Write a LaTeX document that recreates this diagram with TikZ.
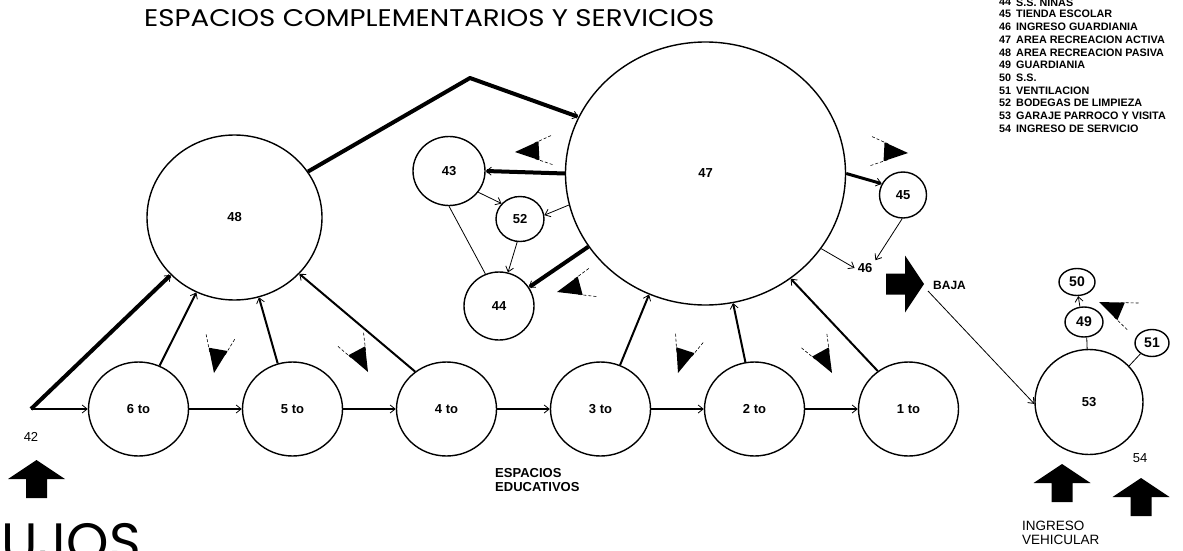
\documentclass[tikz,border=0pt]{standalone}
\usepackage{fontspec}
\usepackage{graphicx}
\setmainfont{Liberation Sans}
\newfontfamily\poppins{Poppins}
\usetikzlibrary{shapes.geometric,arrows.meta}
\begin{document}
\begin{tikzpicture}[x=1pt,y=-1pt,
  circ/.style={ellipse,draw,line width=1.4pt,inner sep=0pt,font=\fontsize{13}{13}\selectfont\bfseries},
  smallc/.style={circ,font=\fontsize{14}{14}\selectfont\bfseries},
  thk/.style={line width=4pt,line join=round},
  mid/.style={line width=3pt},
  med/.style={line width=2pt},
  hl/.style={line width=1.5pt},
  thn/.style={line width=0.8pt},
  barb/.style={-{Straight Barb[length=5pt,width=8pt,line width=0.8pt]}},
  lab/.style={inner sep=0pt,font=\fontsize{13}{13}\selectfont},
  legn/.style={anchor=west,inner sep=0pt,font=\fontsize{10.8}{10.8}\selectfont\bfseries},
  viewsym/.pic={
    \fill (0,0) -- (-24,-9.5) -- (-24,9.5) -- cycle;
    \draw[line width=0.6pt,dash pattern=on 3pt off 2pt] (-20,-7.9) -- (-38,-15) (-20,7.9) -- (-38,15);
  },
  blockup/.pic={
    \fill (0,0) -- (28.5,19) -- (10.5,19) -- (10.5,38) -- (-10.5,38) -- (-10.5,19) -- (-28.5,19) -- cycle;
  }]
\useasboundingbox (0,0) rectangle (1183,551);
\clip (0,0) rectangle (1183,551);

% title and large fragment
\node[anchor=base west,inner sep=0pt] (title) at (144,27) {\resizebox{570pt}{17pt}{\poppins ESPACIOS COMPLEMENTARIOS Y SERVICIOS}};
\node[anchor=base east,inner sep=0pt] (flujos) at (141,561) {\fontsize{54}{54}\poppins FLUJOS};

% legend
\foreach \n/\t/\yy in {44/S.S. NIÑAS/1.5, 45/TIENDA ESCOLAR/14.2, 46/INGRESO GUARDIANIA/26.9,
  47/AREA RECREACION ACTIVA/39.6, 48/AREA RECREACION PASIVA/52.3, 49/GUARDIANIA/65,
  50/S.S./77.7, 51/VENTILACION/90.4, 52/BODEGAS DE LIMPIEZA/103.1,
  53/GARAJE PARROCO Y VISITA/115.8, 54/INGRESO DE SERVICIO/128.5}{
  \node[legn] (ln\n) at (999,\yy) {\n};
  \node[legn] (lt\n) at (1016,\yy) {\t};
}

% circles
\node[circ,minimum width=175pt,minimum height=165pt] (c48) at (234.5,217.5) {48};
\node[circ,minimum width=280pt,minimum height=263pt] (c47) at (705.5,173.5) {47};
\node[circ,minimum width=72pt,minimum height=69pt] (c43) at (449,171) {43};
\node[circ,minimum width=48pt,minimum height=45pt] (c52) at (520,219) {52};
\node[circ,minimum width=70pt,minimum height=68pt] (c44) at (499,306) {44};
\node[circ,minimum width=47pt,minimum height=46pt] (c45) at (903,195) {45};
\node[circ,minimum width=100pt,minimum height=94pt] (c6) at (138.5,409) {6 to};
\node[circ,minimum width=100pt,minimum height=94pt] (c5) at (292.5,409) {5 to};
\node[circ,minimum width=100pt,minimum height=94pt] (c4) at (446.5,409) {4 to};
\node[circ,minimum width=100pt,minimum height=94pt] (c3) at (600.5,409) {3 to};
\node[circ,minimum width=100pt,minimum height=94pt] (c2) at (754.5,409) {2 to};
\node[circ,minimum width=100pt,minimum height=94pt] (c1) at (908.5,409) {1 to};
\node[circ,minimum width=108pt,minimum height=105pt] (c53) at (1089,402) {53};
\node[smallc,minimum width=38pt,minimum height=30pt] (c49) at (1084,322) {49};
\node[smallc,minimum width=36pt,minimum height=27pt] (c50) at (1077,282) {50};
\node[smallc,minimum width=34pt,minimum height=27pt] (c51) at (1152,343) {51};

% labels
\node[lab] (l42) at (31,437) {42};
\node[lab,font=\fontsize{13}{13}\selectfont\bfseries,inner sep=3pt] (l46) at (865,268) {46};
\node[lab,anchor=west,font=\fontsize{12}{12}\selectfont\bfseries] (baja) at (933,285) {BAJA};
\node[lab] (l54) at (1140,458) {54};
\node[lab,anchor=west,align=left,font=\fontsize{13.5}{14}\selectfont] (ingv) at (1022,533) {INGRESO\\VEHICULAR};
\node[lab,anchor=west,align=left,font=\fontsize{13}{14.5}\selectfont\bfseries] (educ) at (495,480) {ESPACIOS\\EDUCATIVOS};

% free points
\coordinate (k42) at (31,409);
\coordinate (peak) at (470,78);
\coordinate (bj) at (928,291);

% thick connectors
\draw[thk,barb] (c48.32) -- (peak) -- (c47.156);
\draw[thk,barb] (k42) -- (c48.222);
\draw[thk,barb] (c47.180) -- (c43.0);
\draw[thk,barb] (c47.212) -- (c44.32);
\draw[mid,barb] (c47.0) -- (c45.152);

% radial connectors
\draw[med,barb] (c6.64) -- (c48.243);
\draw[med,barb] (c5.108) -- (c48.287);
\draw[med,barb] (c4.130) -- (c48.-41);
\draw[med,barb] (c3.66) -- (c47.245.5);
\draw[med,barb] (c2.101) -- (c47.-78);
\draw[med,barb] (c1.129) -- (c47.-51.6);

% sequence
\draw[hl,barb] (k42) -- (c6.west);
\draw[hl,barb] (c6.east) -- (c5.west);
\draw[hl,barb] (c5.east) -- (c4.west);
\draw[hl,barb] (c4.east) -- (c3.west);
\draw[hl,barb] (c3.east) -- (c2.west);
\draw[hl,barb] (c2.east) -- (c1.west);

% thin connectors
\draw[thn,barb] (c43.-36.6) -- (c52.140);
\draw[thn,barb] (c47.193.9) -- (c52.9.5);
\draw[thn,barb] (c52.-97) -- (c44.75);
\draw[thn] (c43.-90) -- (c44.113);
\draw[thn,barb] (c45.-92) -- (l46.north east);
\draw[thn,barb] (c47.-33.7) -- (l46.west);
\draw[thn,barb] (bj) -- (c53.182);
\draw[thn,barb] (c49.105) -- (c50.-85);
\draw[thn] (c53.92) -- (c49.-80);
\draw[thn] (c53.42) -- (c51.223);

% view symbols
\pic[rotate=183] at (515,152) {viewsym};
\pic[rotate=195] at (557,292) {viewsym};
\pic[rotate=-3] at (908,153) {viewsym};
\pic[rotate=-100] at (214,373) {viewsym};
\pic[rotate=-62] at (368,372) {viewsym};
\pic[rotate=-108] at (678,373) {viewsym};
\pic[rotate=-61] at (832,373) {viewsym};
\pic[rotate=157] at (1099,302) {viewsym};

% block arrows
\pic at (36.5,460) {blockup};
\pic at (1062,464) {blockup};
\pic at (1141,478) {blockup};
\pic[rotate=-90] at (924,284) {blockup};
\end{tikzpicture}
\end{document}
